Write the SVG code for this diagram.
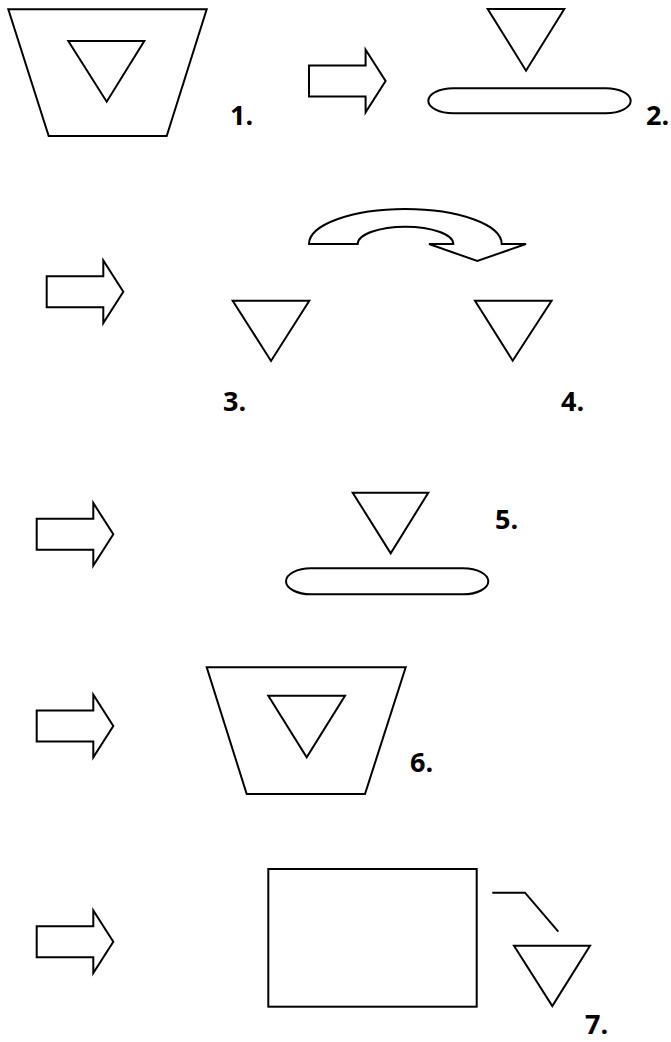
<svg xmlns="http://www.w3.org/2000/svg" width="671" height="1042" viewBox="0 0 671 1042">
<style>
.s{fill:#fff;stroke:#000;stroke-width:2;stroke-linejoin:miter}
.l{fill:none;stroke:#000;stroke-width:2}
.t{font-family:"Open Sans","Liberation Sans",sans-serif;font-weight:700;font-size:27px;fill:#000}
</style>
<defs>
<path id="blk" d="M0,-15.5 H56.6 V-31.3 L76.6,0 L56.6,31.3 V15.5 H0 Z"/>
</defs>
<rect width="671" height="1042" fill="#fff"/>
<g id="connectors">
<use href="#blk" class="s" transform="translate(309,81)"/>
<use href="#blk" class="s" transform="translate(46.7,291.7)"/>
<use href="#blk" class="s" transform="translate(36.7,534.3)"/>
<use href="#blk" class="s" transform="translate(36.7,726)"/>
<use href="#blk" class="s" transform="translate(36.7,941.7)"/>
<path class="s" d="M309,244 A96.35,35 0 0 1 501.7,244 H526 L477.3,261 L429,244 H453.3 A47.8,17.3 0 0 0 357.7,244 Z"/>
</g>
<g id="step1">
<polygon class="s" points="8.3,9.3 206.7,9.3 166.7,136 48.7,136"/>
<polygon class="s" points="68.3,41 144.3,41 106.7,101.7"/>
<text class="t" x="230" y="125">1.</text>
</g>
<g id="step2">
<polygon class="s" points="487.7,9 564.3,9 526,70.7"/>
<rect class="s" x="428.3" y="88.3" width="202.4" height="25" rx="25" ry="12.5"/>
<text class="t" x="646" y="125">2.</text>
</g>
<g id="step3">
<polygon class="s" points="232.7,300.7 309.3,300.7 271,361"/>
<text class="t" x="223" y="411">3.</text>
</g>
<g id="step4">
<polygon class="s" points="475,300.7 551.6,300.7 512.7,360.7"/>
<text class="t" x="561" y="411">4.</text>
</g>
<g id="step5">
<polygon class="s" points="352.7,492.7 428.3,492.7 390.7,553.3"/>
<rect class="s" x="286" y="568.3" width="202.3" height="26" rx="25" ry="13"/>
<text class="t" x="495" y="529">5.</text>
</g>
<g id="step6">
<polygon class="s" points="206.7,667.3 405.7,667.3 365,794 246.7,794"/>
<polygon class="s" points="268.3,695.7 345,695.7 306.7,757.3"/>
<text class="t" x="410" y="772">6.</text>
</g>
<g id="step7">
<rect class="s" x="268.3" y="869" width="208.4" height="137.7"/>
<polyline class="l" points="492.3,892.7 525,892.7 558.3,931.7"/>
<polygon class="s" points="514,945.7 590,945.7 552.3,1006"/>
<text class="t" x="585" y="1034">7.</text>
</g>
</svg>
